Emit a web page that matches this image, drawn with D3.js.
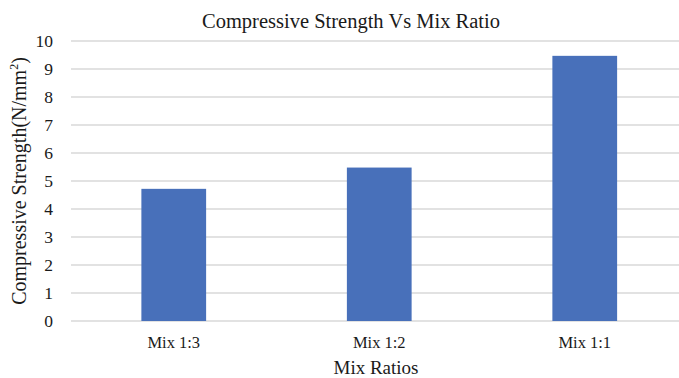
<!DOCTYPE html>
<html>
<head>
<meta charset="utf-8">
<script src="https://cdn.jsdelivr.net/npm/d3@7"></script>
<style>
  html, body { margin: 0; padding: 0; background: #fff; }
  svg { display: block; }
  svg text { font-family: "Liberation Serif", "Times New Roman", serif !important; fill: #1a1a1a; }
</style>
</head>
<body>
<svg id="chart" width="679" height="378"></svg>
<script>
// Compressive strength for each mix ratio
const categories = ["Mix 1:3", "Mix 1:2", "Mix 1:1"];
const strengths = [4.72, 5.48, 9.47];
const yTicks = [0, 1, 2, 3, 4, 5, 6, 7, 8, 9, 10];

const plot = { left: 71, right: 687.5, top: 41, bottom: 321 };

const svg = d3.select("#chart");

const x = d3.scaleBand()
  .domain(categories)
  .range([plot.left, plot.right])
  .paddingInner(0.685)
  .paddingOuter(0.3425);

const y = d3.scaleLinear()
  .domain([0, 10])
  .range([plot.bottom, plot.top]);

// Horizontal gridlines
svg.append("g")
  .selectAll("line")
  .data(yTicks)
  .join("line")
  .attr("x1", plot.left)
  .attr("x2", plot.right)
  .attr("y1", d => y(d))
  .attr("y2", d => y(d))
  .attr("stroke", "#d9d9d9")
  .attr("stroke-width", 1.3);

// Y tick labels
const yAxis = d3.axisLeft(y).tickValues(yTicks).tickSize(0).tickPadding(18);
const gy = svg.append("g")
  .attr("transform", `translate(${plot.left},0)`)
  .call(yAxis);
gy.select(".domain").remove();
gy.selectAll("text")
  .attr("font-size", 17.5);

// Bars
svg.append("g")
  .selectAll("rect")
  .data(categories.map((c, i) => ({ c, v: strengths[i] })))
  .join("rect")
  .attr("x", d => x(d.c))
  .attr("width", x.bandwidth())
  .attr("y", d => y(d.v))
  .attr("height", d => y(0) - y(d.v))
  .attr("fill", "#4870ba");

// X category labels
const xAxis = d3.axisBottom(x).tickSize(0).tickPadding(0);
const gx = svg.append("g")
  .attr("transform", `translate(0,${plot.bottom})`)
  .call(xAxis);
gx.select(".domain").remove();
gx.selectAll("text")
  .attr("font-size", 16.5)
  .attr("dy", null)
  .attr("y", 26.5);

// Title
svg.append("text")
  .attr("x", 351)
  .attr("y", 28)
  .attr("text-anchor", "middle")
  .attr("font-size", 20.5)
  .text("Compressive Strength Vs Mix Ratio");

// X axis title
svg.append("text")
  .attr("x", 376)
  .attr("y", 374)
  .attr("text-anchor", "middle")
  .attr("font-size", 19)
  .text("Mix Ratios");

// Y axis title with superscript
const yt = svg.append("text")
  .attr("transform", `translate(26,181) rotate(-90)`)
  .attr("text-anchor", "middle")
  .attr("font-size", 20);
yt.append("tspan").text("Compressive Strength(N/mm");
yt.append("tspan").attr("font-size", 12).attr("dy", -8).text("2");
yt.append("tspan").attr("dy", 8).text(")");
</script>
</body>
</html>
